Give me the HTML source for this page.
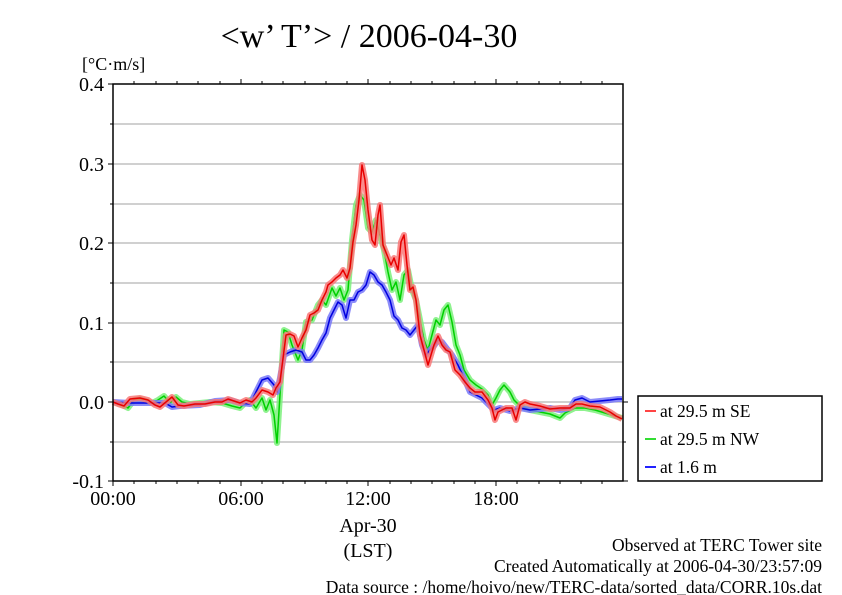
<!DOCTYPE html><html><head><style>body{margin:0;background:#fff}svg{display:block}text{font-family:"Liberation Serif",serif;fill:#000}</style></head><body>
<svg width="842" height="595" viewBox="0 0 842 595" xmlns="http://www.w3.org/2000/svg">
<text x="369" y="47" font-size="34" text-anchor="middle">&lt;w’ T’&gt; / 2006-04-30</text>
<text x="82" y="70" font-size="18">[°C·m/s]</text>
<g stroke="#b4b4b4" stroke-width="1.2">
<line x1="113" y1="124" x2="623" y2="124"/><line x1="113" y1="164" x2="623" y2="164"/><line x1="113" y1="204" x2="623" y2="204"/><line x1="113" y1="243" x2="623" y2="243"/><line x1="113" y1="283" x2="623" y2="283"/><line x1="113" y1="323" x2="623" y2="323"/><line x1="113" y1="362" x2="623" y2="362"/><line x1="113" y1="402" x2="623" y2="402"/><line x1="113" y1="442" x2="623" y2="442"/>
</g>
<g fill="none" stroke-linejoin="round">
<polyline stroke="#7bf07b" stroke-width="6" opacity="0.85" points="113,402 120,404 128,408 134,400 140,399 146,401 152,403 158,400 164,396 170,403 176,397 182,402 190,404 200,403 210,402 222,403 232,406 240,408 244,404 250,400 256,408 262,398 266,410 270,400 274,415 277,443 280,395 284,330 288,332 292,345 298,360 302,350 306,322 312,320 318,305 322,300 326,305 332,288 336,296 340,288 344,300 348,290 352,240 356,205 360,195 364,200 368,228 372,232 376,220 380,235 384,250 388,272 392,290 396,282 400,300 404,275 408,270 412,290 416,300 420,320 424,340 428,350 432,335 436,320 440,325 444,310 448,305 452,322 456,345 460,355 464,370 470,380 476,385 482,389 488,395 492,405 496,398 500,390 504,385 510,392 514,400 520,406 530,410 540,412 550,414 560,418 565,413 575,408 585,408 595,410 605,413 615,416 622,418"/>
<polyline stroke="#00d000" stroke-width="1.5" points="113,402 120,404 128,408 134,400 140,399 146,401 152,403 158,400 164,396 170,403 176,397 182,402 190,404 200,403 210,402 222,403 232,406 240,408 244,404 250,400 256,408 262,398 266,410 270,400 274,415 277,443 280,395 284,330 288,332 292,345 298,360 302,350 306,322 312,320 318,305 322,300 326,305 332,288 336,296 340,288 344,300 348,290 352,240 356,205 360,195 364,200 368,228 372,232 376,220 380,235 384,250 388,272 392,290 396,282 400,300 404,275 408,270 412,290 416,300 420,320 424,340 428,350 432,335 436,320 440,325 444,310 448,305 452,322 456,345 460,355 464,370 470,380 476,385 482,389 488,395 492,405 496,398 500,390 504,385 510,392 514,400 520,406 530,410 540,412 550,414 560,418 565,413 575,408 585,408 595,410 605,413 615,416 622,418"/>
<polyline stroke="#7878f8" stroke-width="6" opacity="0.85" points="113,402 130,403 150,403 165,403 172,407 180,406 200,405 215,401 230,400 240,403 250,404 256,392 262,380 268,378 274,385 277,392 280,378 284,355 290,352 296,350 302,352 306,360 310,360 314,355 318,348 322,340 326,333 330,318 334,310 338,302 342,305 346,318 350,300 354,300 358,292 362,290 366,285 370,272 374,275 378,282 382,285 386,292 390,300 394,316 398,320 402,328 406,330 410,335 414,330 418,325 422,345 426,355 430,350 434,346 438,340 442,342 448,350 452,355 458,365 464,378 470,392 476,395 482,398 488,404 494,410 500,408 510,411 520,408 530,410 540,409 550,408 560,410 570,408 575,400 582,398 590,402 600,401 610,400 618,399 622,399"/>
<polyline stroke="#0000e0" stroke-width="1.5" points="113,402 130,403 150,403 165,403 172,407 180,406 200,405 215,401 230,400 240,403 250,404 256,392 262,380 268,378 274,385 277,392 280,378 284,355 290,352 296,350 302,352 306,360 310,360 314,355 318,348 322,340 326,333 330,318 334,310 338,302 342,305 346,318 350,300 354,300 358,292 362,290 366,285 370,272 374,275 378,282 382,285 386,292 390,300 394,316 398,320 402,328 406,330 410,335 414,330 418,325 422,345 426,355 430,350 434,346 438,340 442,342 448,350 452,355 458,365 464,378 470,392 476,395 482,398 488,404 494,410 500,408 510,411 520,408 530,410 540,409 550,408 560,410 570,408 575,400 582,398 590,402 600,401 610,400 618,399 622,399"/>
<polyline stroke="#f87878" stroke-width="6" opacity="0.85" points="113,402 118,404 124,406 130,399 140,398 148,400 155,405 160,407 166,402 172,397 178,405 184,406 195,404 205,404 215,402 222,402 228,399 234,401 240,403 246,400 252,402 256,398 262,390 268,392 273,395 276,388 280,382 286,335 290,334 294,336 298,347 302,338 306,330 310,315 314,313 318,310 322,300 326,292 328,285 332,282 336,278 340,275 343,270 347,278 350,268 353,242 356,225 359,200 362,165 365,180 368,210 372,240 375,245 378,215 380,205 383,245 387,255 391,265 394,258 398,270 401,242 404,235 407,265 410,290 413,287 416,300 420,335 424,350 428,365 431,355 434,345 438,336 442,345 446,350 450,352 455,370 460,375 465,382 470,388 475,392 482,392 488,400 492,408 495,420 498,412 502,410 506,408 512,408 516,420 520,405 525,402 530,404 540,406 550,409 560,408 570,408 576,404 582,404 590,406 600,407 610,412 616,416 622,419"/>
<polyline stroke="#e80000" stroke-width="1.5" points="113,402 118,404 124,406 130,399 140,398 148,400 155,405 160,407 166,402 172,397 178,405 184,406 195,404 205,404 215,402 222,402 228,399 234,401 240,403 246,400 252,402 256,398 262,390 268,392 273,395 276,388 280,382 286,335 290,334 294,336 298,347 302,338 306,330 310,315 314,313 318,310 322,300 326,292 328,285 332,282 336,278 340,275 343,270 347,278 350,268 353,242 356,225 359,200 362,165 365,180 368,210 372,240 375,245 378,215 380,205 383,245 387,255 391,265 394,258 398,270 401,242 404,235 407,265 410,290 413,287 416,300 420,335 424,350 428,365 431,355 434,345 438,336 442,345 446,350 450,352 455,370 460,375 465,382 470,388 475,392 482,392 488,400 492,408 495,420 498,412 502,410 506,408 512,408 516,420 520,405 525,402 530,404 540,406 550,409 560,408 570,408 576,404 582,404 590,406 600,407 610,412 616,416 622,419"/>
</g>
<rect x="113" y="84" width="510" height="397" fill="none" stroke="#000" stroke-width="1.5"/>
<g stroke="#000" stroke-width="1">
<line x1="108" y1="84" x2="113" y2="84"/><line x1="110" y1="124" x2="113" y2="124"/><line x1="108" y1="164" x2="113" y2="164"/><line x1="110" y1="204" x2="113" y2="204"/><line x1="108" y1="243" x2="113" y2="243"/><line x1="110" y1="283" x2="113" y2="283"/><line x1="108" y1="323" x2="113" y2="323"/><line x1="110" y1="362" x2="113" y2="362"/><line x1="108" y1="402" x2="113" y2="402"/><line x1="110" y1="442" x2="113" y2="442"/><line x1="108" y1="481" x2="113" y2="481"/>
<line x1="623" y1="402" x2="628" y2="402"/><line x1="623" y1="442" x2="626" y2="442"/><line x1="623" y1="481" x2="628" y2="481"/>
<line x1="134" y1="84" x2="134" y2="81"/><line x1="156" y1="84" x2="156" y2="81"/><line x1="177" y1="84" x2="177" y2="81"/><line x1="198" y1="84" x2="198" y2="81"/><line x1="220" y1="84" x2="220" y2="81"/><line x1="241" y1="84" x2="241" y2="79"/><line x1="262" y1="84" x2="262" y2="81"/><line x1="283" y1="84" x2="283" y2="81"/><line x1="305" y1="84" x2="305" y2="81"/><line x1="326" y1="84" x2="326" y2="81"/><line x1="347" y1="84" x2="347" y2="81"/><line x1="368" y1="84" x2="368" y2="79"/><line x1="390" y1="84" x2="390" y2="81"/><line x1="411" y1="84" x2="411" y2="81"/><line x1="432" y1="84" x2="432" y2="81"/><line x1="454" y1="84" x2="454" y2="81"/><line x1="475" y1="84" x2="475" y2="81"/><line x1="496" y1="84" x2="496" y2="79"/><line x1="517" y1="84" x2="517" y2="81"/><line x1="539" y1="84" x2="539" y2="81"/><line x1="560" y1="84" x2="560" y2="81"/><line x1="581" y1="84" x2="581" y2="81"/><line x1="602" y1="84" x2="602" y2="81"/>
<line x1="113" y1="481" x2="113" y2="486"/><line x1="134" y1="481" x2="134" y2="484"/><line x1="156" y1="481" x2="156" y2="484"/><line x1="177" y1="481" x2="177" y2="484"/><line x1="198" y1="481" x2="198" y2="484"/><line x1="220" y1="481" x2="220" y2="484"/><line x1="241" y1="481" x2="241" y2="486"/><line x1="262" y1="481" x2="262" y2="484"/><line x1="283" y1="481" x2="283" y2="484"/><line x1="305" y1="481" x2="305" y2="484"/><line x1="326" y1="481" x2="326" y2="484"/><line x1="347" y1="481" x2="347" y2="484"/><line x1="368" y1="481" x2="368" y2="486"/><line x1="390" y1="481" x2="390" y2="484"/><line x1="411" y1="481" x2="411" y2="484"/><line x1="432" y1="481" x2="432" y2="484"/><line x1="454" y1="481" x2="454" y2="484"/><line x1="475" y1="481" x2="475" y2="484"/><line x1="496" y1="481" x2="496" y2="486"/><line x1="517" y1="481" x2="517" y2="484"/><line x1="539" y1="481" x2="539" y2="484"/><line x1="560" y1="481" x2="560" y2="484"/><line x1="581" y1="481" x2="581" y2="484"/><line x1="602" y1="481" x2="602" y2="484"/>
</g>
<g font-size="20" text-anchor="end">
<text x="104" y="91">0.4</text><text x="104" y="171">0.3</text><text x="104" y="250">0.2</text><text x="104" y="330">0.1</text><text x="104" y="409">0.0</text><text x="104" y="488">-0.1</text>
</g>
<g font-size="20" text-anchor="middle">
<text x="113" y="505">00:00</text><text x="241" y="505">06:00</text><text x="368" y="505">12:00</text><text x="496" y="505">18:00</text>
<text x="368" y="532">Apr-30</text><text x="368" y="557">(LST)</text>
</g>
<rect x="638" y="396" width="184" height="85" fill="#fff" stroke="#000" stroke-width="1.5"/>
<g stroke-width="2"><line x1="645" y1="411" x2="656" y2="411" stroke="#f44"/><line x1="645" y1="439" x2="656" y2="439" stroke="#3d3"/><line x1="645" y1="467" x2="656" y2="467" stroke="#22f"/></g>
<g font-size="17.5"><text x="660" y="417">at 29.5 m SE</text><text x="660" y="445">at 29.5 m NW</text><text x="660" y="473">at 1.6 m</text></g>
<g font-size="17.5" text-anchor="end"><text x="822" y="551">Observed at TERC Tower site</text><text x="822" y="572">Created Automatically at 2006-04-30/23:57:09</text><text x="822" y="593">Data source : /home/hoivo/new/TERC-data/sorted_data/CORR.10s.dat</text></g>
</svg></body></html>
